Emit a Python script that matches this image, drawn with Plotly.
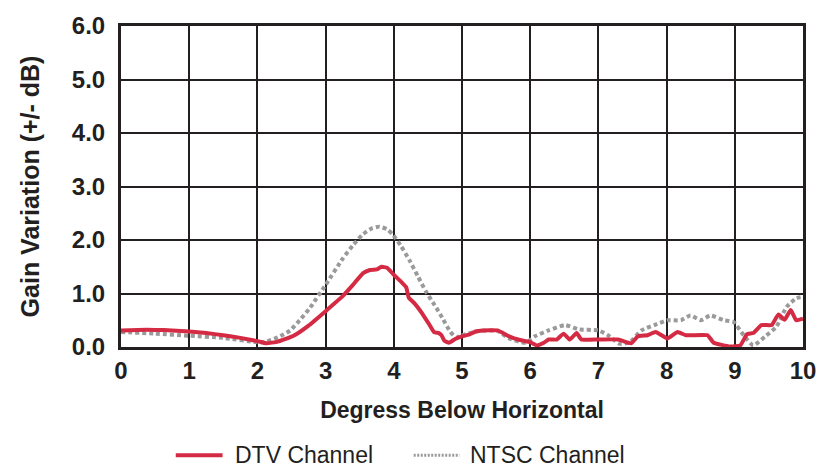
import plotly.graph_objects as go

# Degrees below horizontal and gain variation (+/- dB) for each channel
dtv_deg = [0, 0.25, 0.5, 0.75, 1.0, 1.25, 1.5, 1.75, 2.0, 2.13, 2.3, 2.53, 2.75, 3.0,
           3.25, 3.4, 3.55, 3.65, 3.75, 3.82, 3.9, 4.0, 4.1, 4.18, 4.22, 4.3, 4.42,
           4.52, 4.59, 4.66, 4.7, 4.74, 4.81, 4.9, 5.0, 5.1, 5.2, 5.3, 5.52, 5.69,
           5.85, 6.0, 6.1, 6.2, 6.27, 6.39, 6.49, 6.58, 6.68, 6.75, 7.0, 7.29, 7.48,
           7.58, 7.72, 7.84, 8.01, 8.16, 8.28, 8.6, 8.69, 8.93, 9.08, 9.18, 9.27,
           9.39, 9.54, 9.64, 9.73, 9.82, 9.9, 10.0]
dtv_gain = [0.31, 0.32, 0.32, 0.31, 0.29, 0.26, 0.22, 0.17, 0.11, 0.07, 0.10, 0.21,
            0.40, 0.67, 0.95, 1.16, 1.38, 1.44, 1.45, 1.50, 1.48, 1.35, 1.23, 1.12,
            0.92, 0.82, 0.62, 0.42, 0.28, 0.26, 0.22, 0.12, 0.08, 0.15, 0.20, 0.23,
            0.29, 0.31, 0.31, 0.20, 0.13, 0.09, 0.03, 0.08, 0.14, 0.14, 0.25, 0.14,
            0.26, 0.14, 0.14, 0.14, 0.07, 0.20, 0.22, 0.28, 0.16, 0.28, 0.22, 0.22,
            0.08, 0.01, 0.03, 0.24, 0.26, 0.41, 0.41, 0.61, 0.51, 0.69, 0.50, 0.53]

ntsc_deg = [0, 0.5, 1.0, 1.5, 2.0, 2.1, 2.3, 2.48, 2.62, 2.77, 3.0, 3.25, 3.4, 3.55,
            3.68, 3.79, 3.9, 3.98, 4.1, 4.23, 4.35, 4.47, 4.6, 4.71, 4.82, 4.91, 5.0,
            5.25, 5.52, 5.69, 5.93, 6.07, 6.27, 6.51, 6.71, 7.0, 7.14, 7.31, 7.46,
            7.63, 7.82, 8.01, 8.21, 8.35, 8.5, 8.64, 8.84, 8.98, 9.13, 9.27, 9.44,
            9.61, 9.76, 9.9, 10.0]
ntsc_gain = [0.28, 0.25, 0.21, 0.17, 0.09, 0.09, 0.18, 0.31, 0.50, 0.73, 1.16, 1.65,
             1.90, 2.11, 2.22, 2.25, 2.20, 2.11, 1.90, 1.62, 1.33, 1.04, 0.78, 0.55,
             0.30, 0.18, 0.22, 0.30, 0.30, 0.16, 0.08, 0.20, 0.31, 0.41, 0.33, 0.31,
             0.22, 0.06, 0.09, 0.31, 0.41, 0.50, 0.50, 0.59, 0.50, 0.59, 0.50, 0.47,
             0.22, 0.03, 0.19, 0.38, 0.75, 0.91, 0.94]

x_ticks = list(range(0, 11))
y_ticks = [0, 1, 2, 3, 4, 5, 6]

INK = "#231f20"
RED = "#d52a43"
GRAY = "#9a9a9a"
FONT = "Liberation Sans, Arial, sans-serif"

fig = go.Figure()
fig.add_trace(go.Scatter(x=ntsc_deg, y=ntsc_gain, mode="lines", name="NTSC Channel",
                         line=dict(color=GRAY, width=4, dash="4px,3px", shape="spline",
                                   smoothing=0.5),
                         showlegend=False))
fig.add_trace(go.Scatter(x=dtv_deg, y=dtv_gain, mode="lines", name="DTV Channel",
                         line=dict(color=RED, width=4, shape="spline", smoothing=0.4),
                         showlegend=False))

axis_common = dict(showgrid=True, gridcolor=INK, gridwidth=2, showline=True,
                   linecolor=INK, linewidth=3, mirror=True, zeroline=False,
                   ticks="", layer="below traces",
                   tickfont=dict(family=FONT, size=24, color=INK, weight="bold"))

fig.update_xaxes(range=[0, 10], tickvals=x_ticks, ticktext=[str(v) for v in x_ticks],
                 ticklabelstandoff=0,
                 title=dict(text="Degress Below Horizontal", standoff=20,
                            font=dict(family=FONT, size=23, color=INK, weight="bold")),
                 **axis_common)
fig.update_yaxes(range=[0, 6], tickvals=y_ticks, ticktext=[f"{v:.1f}" for v in y_ticks],
                 ticklabelstandoff=8,
                 title=dict(text="Gain Variation (+/- dB)", standoff=26,
                            font=dict(family=FONT, size=25, color=INK, weight="bold")),
                 **axis_common)

# Legend keys drawn below the axis title
px_w, px_h = 685, 326
def px_x(p):
    return (p - 121) / px_w
def px_y(p):
    return (347 - p) / px_h

shapes = [
    dict(type="line", xref="paper", yref="paper", x0=px_x(176), x1=px_x(223),
         y0=px_y(457), y1=px_y(457), line=dict(color=RED, width=4)),
    dict(type="line", xref="paper", yref="paper", x0=px_x(415), x1=px_x(461),
         y0=px_y(457), y1=px_y(457), line=dict(color=GRAY, width=3, dash="2px,1.5px")),
]
annotations = [
    dict(text="DTV Channel", xref="paper", yref="paper", x=px_x(233), y=px_y(457),
         xanchor="left", yanchor="middle", showarrow=False,
         font=dict(family=FONT, size=23, color=INK)),
    dict(text="NTSC Channel", xref="paper", yref="paper", x=px_x(470), y=px_y(457),
         xanchor="left", yanchor="middle", showarrow=False,
         font=dict(family=FONT, size=23, color=INK)),
]

fig.update_layout(width=828, height=471, margin=dict(l=121, r=22, t=21, b=124),
                  paper_bgcolor="white", plot_bgcolor="white",
                  shapes=shapes, annotations=annotations, showlegend=False)

fig.write_html("out.html")
